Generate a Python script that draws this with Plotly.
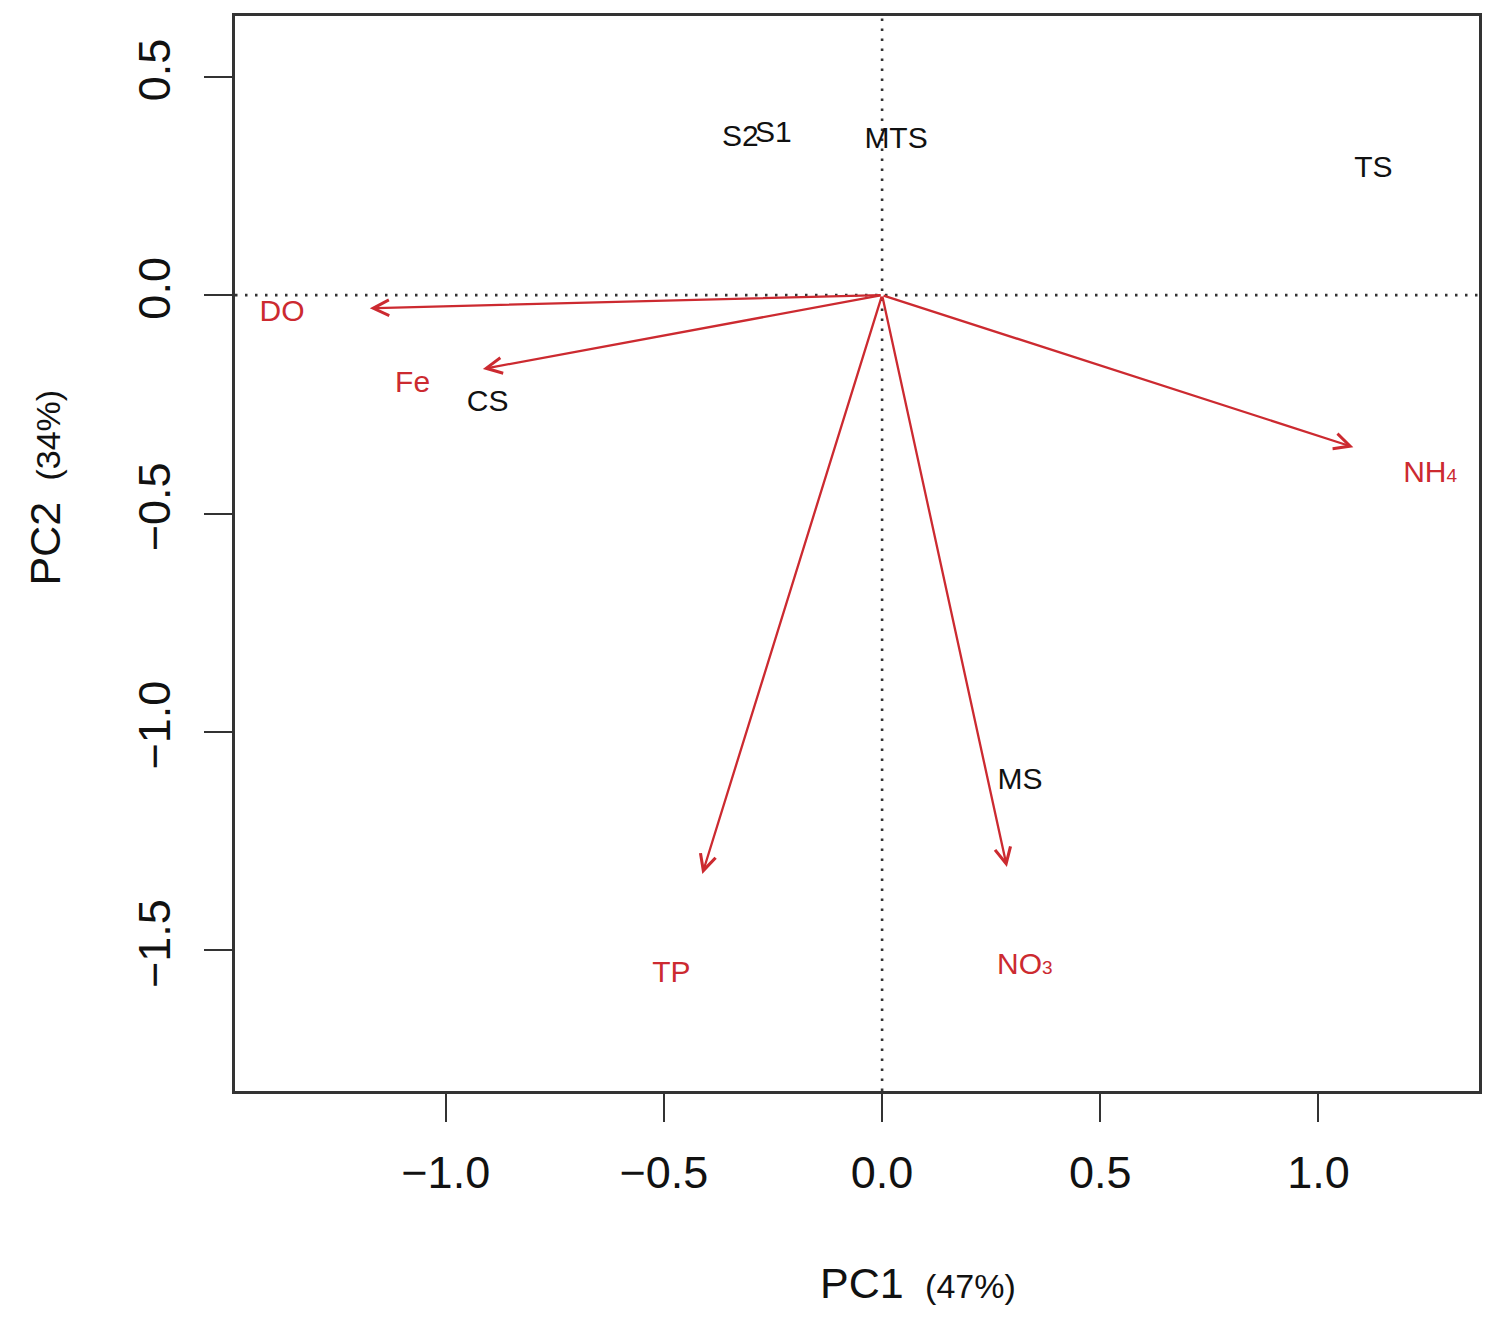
import plotly.graph_objects as go

# ---- data ----
var_names = ["DO", "Fe", "NH<span style='font-size:19px'>4</span>", "TP",
             "NO<span style='font-size:19px'>3</span>"]
var_tip_x = [-1.174, -0.915, 1.080, -0.412, 0.286]
var_tip_y = [-0.030, -0.169, -0.348, -1.325, -1.309]
var_lab_x = [-1.375, -1.076, 1.256, -0.483, 0.327]
var_lab_y = [-0.041, -0.204, -0.410, -1.556, -1.538]

site_names = ["S2", "S1", "MTS", "TS", "CS", "MS"]
site_x = [-0.325, -0.249, 0.032, 1.126, -0.904, 0.316]
site_y = [0.359, 0.368, 0.355, 0.288, -0.249, -1.114]

x_ticks = [-1.0, -0.5, 0.0, 0.5, 1.0]
x_tick_text = ["\u22121.0", "\u22120.5", "0.0", "0.5", "1.0"]
y_ticks = [0.5, 0.0, -0.5, -1.0, -1.5]
y_tick_text = ["0.5", "0.0", "\u22120.5", "\u22121.0", "\u22121.5"]

x_range = [-1.483, 1.368]
y_range = [-1.822, 0.639]

RED = "#cc2a30"
FONT = "Liberation Sans, Arial, sans-serif"

fig = go.Figure()

# sample labels (black)
fig.add_trace(go.Scatter(
    x=site_x, y=site_y, mode="text", text=site_names,
    textposition="middle center",
    textfont=dict(family=FONT, size=30, color="#111111"),
    hoverinfo="skip", showlegend=False))

# variable labels (red)
fig.add_trace(go.Scatter(
    x=var_lab_x, y=var_lab_y, mode="text", text=var_names,
    textposition="middle center",
    textfont=dict(family=FONT, size=30, color=RED),
    hoverinfo="skip", showlegend=False))

# arrows from origin
for tx, ty in zip(var_tip_x, var_tip_y):
    fig.add_annotation(
        x=tx, y=ty, ax=0, ay=0, xref="x", yref="y", axref="x", ayref="y",
        showarrow=True, arrowhead=5, arrowsize=1.35, arrowwidth=2.3,
        arrowcolor=RED, text="", standoff=0)

# dotted reference lines
fig.add_shape(type="line", xref="x", yref="paper", x0=0, x1=0, y0=0, y1=1,
              line=dict(color="#333333", width=2.6, dash="2.5px,7.5px"), layer="below")
fig.add_shape(type="line", xref="paper", yref="y", x0=0, x1=1, y0=0, y1=0,
              line=dict(color="#333333", width=2.6, dash="2.5px,7.5px"), layer="below")

# axis titles
fig.add_annotation(
    xref="paper", yref="paper", x=0.549, y=-0.179, showarrow=False,
    xanchor="center", yanchor="middle",
    text="PC1 <span style='font-size:34px'> (47%)</span>",
    font=dict(family=FONT, size=43, color="#111111"))
fig.add_annotation(
    xref="paper", yref="paper", x=-0.153, y=0.561, showarrow=False,
    xanchor="center", yanchor="middle", textangle=-90,
    text="PC2 <span style='font-size:34px'> (34%)</span>",
    font=dict(family=FONT, size=43, color="#111111"))

axis_common = dict(
    showgrid=False, zeroline=False, showline=True, mirror=True,
    linecolor="#333333", linewidth=2.5, ticks="outside", ticklen=28,
    tickwidth=2.2, tickcolor="#333333",
    tickfont=dict(family=FONT, size=45, color="#111111"),
)

fig.update_xaxes(range=x_range, tickvals=x_ticks, ticktext=x_tick_text,
                 ticklabelstandoff=12, **axis_common)
fig.update_yaxes(range=y_range, tickvals=y_ticks, ticktext=y_tick_text,
                 tickangle=-90, ticklabelstandoff=16, **axis_common)

fig.update_layout(
    width=1500, height=1326,
    margin=dict(l=227, r=29, t=5, b=243),
    plot_bgcolor="white", paper_bgcolor="white",
    font=dict(family=FONT),
    showlegend=False,
)

fig.write_html("out.html")
